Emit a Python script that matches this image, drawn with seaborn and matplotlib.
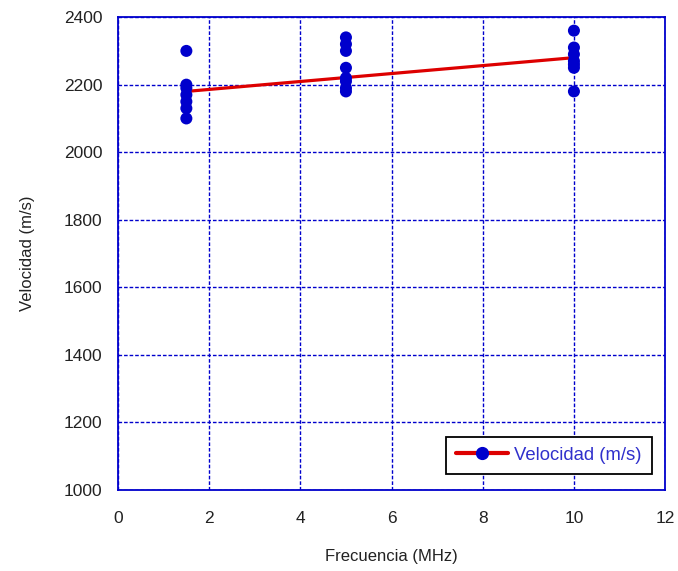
import matplotlib
matplotlib.use("Agg")
import matplotlib.pyplot as plt
from matplotlib.lines import Line2D
import numpy as np
import pandas as pd
import seaborn as sns

# measured points, frequency (MHz) vs velocity (m/s)
freq = [1.5] * 7 + [5.0] * 8 + [10.0] * 7
velocity = [
    2300, 2200, 2190, 2170, 2150, 2130, 2100,
    2340, 2320, 2300, 2250, 2220, 2210, 2190, 2180,
    2360, 2310, 2290, 2270, 2260, 2250, 2180,
]
# trend line
fit_freq = [1.5, 10.0]
fit_velocity = [2180, 2280]

x_ticks = [0, 2, 4, 6, 8, 10, 12]
y_ticks = [1000, 1200, 1400, 1600, 1800, 2000, 2200, 2400]

sns.set_style("white")
plt.rcParams["font.family"] = ["Liberation Sans", "DejaVu Sans"]

df = pd.DataFrame({"freq": freq, "vel": velocity})
fit_df = pd.DataFrame({"freq": fit_freq, "vel": fit_velocity})

blue = "#0000cc"
text_col = "#222222"
fig = plt.figure(figsize=(6.78, 5.71), dpi=100)
ax = fig.add_axes([0.174, 0.142, 0.807, 0.828])

sns.lineplot(data=fit_df, x="freq", y="vel", color="#dd0000", linewidth=2.3, ax=ax, zorder=2)
sns.scatterplot(data=df, x="freq", y="vel", color=blue, s=75, edgecolor="none", ax=ax, zorder=3)

ax.set_xlim(0, 12)
ax.set_ylim(1000, 2400)
ax.set_xticks(x_ticks)
ax.set_yticks(y_ticks)
ax.grid(True, color=blue, linestyle=(0, (2.6, 1.4)), linewidth=1.0)
for s in ax.spines.values():
    s.set_color(blue)
    s.set_linewidth(1.3)
ax.tick_params(direction="in", length=5, color=blue, labelsize=12.5, labelcolor=text_col)
ax.tick_params(axis="x", pad=15)
ax.tick_params(axis="y", pad=11)

ax.set_xlabel("Frecuencia (MHz)", fontsize=12, color=text_col, labelpad=17)
ax.set_ylabel("Velocidad (m/s)", fontsize=12, color=text_col, labelpad=21)

handle = Line2D([], [], color="#dd0000", linewidth=3, marker="o", markersize=8.5,
                markerfacecolor=blue, markeredgecolor=blue)
leg = ax.legend([handle], ["Velocidad (m/s)"], loc="lower right",
                bbox_to_anchor=(0.976, 0.034), borderaxespad=0, fontsize=13.3,
                frameon=True, fancybox=False, handlelength=2.8, handletextpad=0.35,
                borderpad=0.55, labelcolor="#3030cc")
leg.get_frame().set_edgecolor("black")
leg.get_frame().set_linewidth(1.3)
leg.get_frame().set_alpha(1)

fig.savefig("out.png", dpi=100)
